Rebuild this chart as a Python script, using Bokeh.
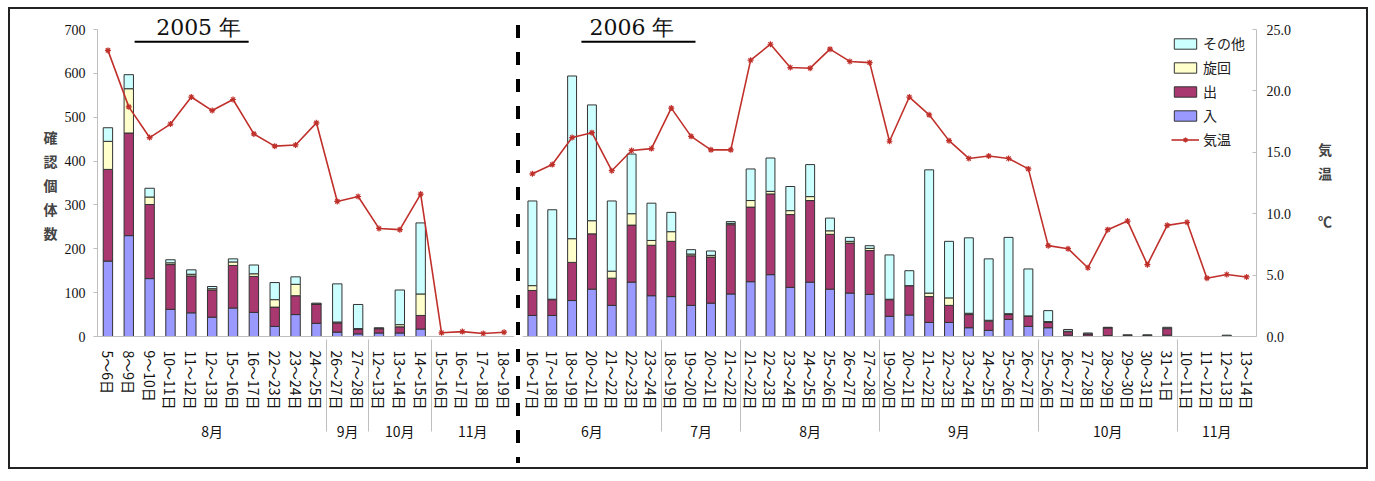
from bokeh.plotting import figure
from bokeh.models import (ColumnDataSource, FactorRange, Range1d, LinearAxis, Legend, LegendItem,
                          Label, Div, NumeralTickFormatter, SingleIntervalTicker)
from bokeh.layouts import row
from bokeh.embed import file_html
from bokeh.resources import INLINE

# ---------------- data ----------------
months_2005 = ["8月"] * 11 + ["9月"] * 2 + ["10月"] * 3 + ["11月"] * 4
dates_2005 = ["5～6日", "8～9日", "9～10日", "10～11日", "11～12日", "12～13日", "15～16日", "16～17日",
              "22～23日", "23～24日", "24～25日", "26～27日", "27～28日", "12～13日", "13～14日", "14～15日",
              "15～16日", "16～17日", "17～18日", "18～19日"]
in_2005 = [172, 230, 132, 62, 54, 44, 65, 55, 23, 50, 30, 10, 6, 8, 8, 17, 0, 0, 0, 0]
out_2005 = [209, 234, 169, 102, 84, 62, 97, 82, 44, 43, 44, 21, 11, 10, 14, 31, 0, 0, 0, 0]
turn_2005 = [64, 101, 17, 4, 4, 3, 8, 6, 17, 26, 0, 2, 1, 0, 5, 49, 0, 0, 0, 0]
other_2005 = [31, 32, 20, 7, 10, 5, 7, 20, 39, 17, 2, 87, 55, 2, 79, 162, 0, 0, 0, 0]
temp_2005 = [23.3, 18.7, 16.2, 17.3, 19.5, 18.4, 19.3, 16.5, 15.5, 15.6, 17.4, 11.0, 11.4, 8.8, 8.7,
             11.6, 0.3, 0.4, 0.25, 0.35]

months_2006 = ["6月"] * 7 + ["7月"] * 4 + ["8月"] * 7 + ["9月"] * 8 + ["10月"] * 7 + ["11月"] * 4
dates_2006 = ["16～17日", "17～18日", "18～19日", "20～21日", "21～22日", "22～23日", "23～24日",
              "18～19日", "19～20日", "20～21日", "21～22日",
              "21～22日", "22～23日", "23～24日", "24～25日", "25～26日", "26～27日", "27～28日",
              "19～20日", "20～21日", "21～22日", "22～23日", "23～24日", "24～25日", "25～26日", "26～27日",
              "25～26日", "26～27日", "27～28日", "28～29日", "29～30日", "30～31日", "31～1日",
              "10～11日", "11～12日", "12～13日", "13～14日"]
in_2006 = [48, 48, 82, 108, 71, 124, 93, 91, 71, 76, 97, 125, 141, 112, 124, 108, 99, 96,
           46, 49, 32, 32, 20, 14, 39, 23, 20, 3, 1, 2, 1, 1, 3, 0, 0, 0, 0]
out_2006 = [57, 36, 87, 126, 62, 130, 115, 126, 113, 105, 158, 170, 184, 166, 186, 125, 114, 100,
            38, 67, 59, 39, 30, 21, 11, 23, 12, 8, 5, 18, 1, 1, 15, 0, 0, 1, 0]
turn_2006 = [11, 1, 54, 30, 16, 26, 11, 22, 4, 4, 3, 15, 6, 9, 9, 8, 4, 5,
             1, 0, 8, 17, 3, 2, 2, 1, 2, 1, 0, 0, 0, 0, 1, 0, 0, 0, 0]
other_2006 = [193, 204, 371, 264, 160, 136, 85, 44, 10, 10, 4, 72, 76, 55, 73, 29, 9, 6,
              101, 34, 281, 129, 172, 140, 174, 107, 25, 4, 2, 1, 2, 2, 2, 0, 0, 2, 0]
temp_2006 = [13.25, 14.0, 16.2, 16.6, 13.5, 15.15, 15.3, 18.6, 16.3, 15.2, 15.2,
             22.5, 23.8, 21.9, 21.85, 23.4, 22.4, 22.3,
             15.9, 19.5, 18.05, 15.95, 14.5, 14.7, 14.5, 13.65,
             7.4, 7.15, 5.6, 8.7, 9.4, 5.85, 9.05, 9.3, 4.75, 5.05, 4.85]

series = ["入", "出", "旋回", "その他"]
colors = ["#9999FF", "#A8386F", "#FFFFCC", "#CCFFFF"]
TEMP_COLOR = "#C0302B"
TICK_FONT = "Liberation Sans Narrow"
JP_FONT = "Noto Sans CJK JP"

H = 458
TOP, BOTTOM = 0, 131
# frame is extended above the 700 tick so the year titles fit inside it
Y_END = 700 * (H - TOP - BOTTOM) / 307.0
T_END = 25 * Y_END / 700.0


def make_fig(months, dates, ins, outs, turns, others, temps, width, mb_left, mb_right):
    factors = list(zip(months, dates))
    src = ColumnDataSource(data={"x": factors, "入": ins, "出": outs, "旋回": turns,
                                 "その他": others, "t": temps})
    p = figure(width=width, height=H,
               x_range=FactorRange(factors=factors, factor_padding=0, group_padding=0,
                                   subgroup_padding=0, range_padding=0),
               y_range=Range1d(0, Y_END), y_axis_location=None,
               output_backend="svg", toolbar_location=None,
               min_border_left=mb_left, min_border_right=mb_right,
               min_border_top=TOP, min_border_bottom=BOTTOM)
    p.extra_y_ranges = {"temp": Range1d(0, T_END)}
    p.outline_line_color = None
    p.grid.visible = False
    p.background_fill_color = "white"
    bars = p.vbar_stack(series, x="x", width=0.45, color=colors, line_color="#333333",
                        line_width=1, source=src)
    ln = p.line(x="x", y="t", source=src, y_range_name="temp", line_color=TEMP_COLOR, line_width=1.6)
    sc = p.scatter(x="x", y="t", source=src, y_range_name="temp", marker="asterisk", size=6,
                   line_color=TEMP_COLOR, line_width=1.2)

    ax = p.xaxis[0]
    ax.major_label_orientation = "vertical"
    ax.major_label_text_font = JP_FONT
    ax.major_label_text_font_size = "14px"
    ax.major_label_text_color = "#111111"
    ax.major_label_standoff = 8
    ax.group_text_font = JP_FONT
    ax.group_text_font_size = "14px"
    ax.group_text_color = "#111111"
    ax.group_text_font_style = "normal"
    ax.major_tick_line_color = None
    ax.axis_line_color = "#BFBFBF"
    ax.separator_line_color = "#BFBFBF"
    ax.separator_line_width = 1
    return p, bars, ln, sc


# ---------------- 2005 ----------------
p1, bars1, ln1, sc1 = make_fig(months_2005, dates_2005, in_2005, out_2005, turn_2005, other_2005,
                               temp_2005, 504, 87, 0)
yax = LinearAxis(ticker=SingleIntervalTicker(interval=100), axis_label="\n確\n認\n個\n体\n数",
                 bounds=(0, 700))
yax.axis_label_orientation = "horizontal"
yax.axis_label_text_font = JP_FONT
yax.axis_label_text_font_size = "14px"
yax.axis_label_text_font_style = "bold"
yax.axis_label_standoff = 4
yax.major_label_text_font = TICK_FONT
yax.major_label_text_font_size = "14px"
yax.major_label_text_color = "#111111"
yax.axis_line_color = "#BFBFBF"
yax.major_tick_line_color = "#BFBFBF"
yax.major_tick_out = 4
yax.major_tick_in = 0
yax.minor_tick_line_color = None
yax.major_label_standoff = 8
p1.add_layout(yax, "left")

p1.add_layout(Label(x=4.85, y=704, text="2005 年", text_align="center", text_baseline="middle",
                    text_font="DejaVu Serif", text_font_size="22px", text_color="#111111"))
p1.segment(x0=[1.78], x1=[7.25], y0=[672], y1=[672], line_color="black", line_width=2)

# ---------------- divider (dashed separator between the two years) ----------------
divider = Div(text='<div style="width:4px;height:438px;margin:16px 0 0 2px;'
                   'background:repeating-linear-gradient(to bottom,#000 0px,#000 13px,'
                   'transparent 13px,transparent 27px);"></div>',
              width=8, height=H, margin=0)

# ---------------- 2006 ----------------
p2, bars2, ln2, sc2 = make_fig(months_2006, dates_2006, in_2006, out_2006, turn_2006, other_2006,
                               temp_2006, 844, 0, 110)
rax = LinearAxis(y_range_name="temp", ticker=SingleIntervalTicker(interval=5),
                 axis_label="\n気\n温\n\n℃", bounds=(0, 25))
rax.formatter = NumeralTickFormatter(format="0.0")
rax.axis_label_orientation = "horizontal"
rax.axis_label_text_font = JP_FONT
rax.axis_label_text_font_size = "14px"
rax.axis_label_text_font_style = "bold"
rax.axis_label_standoff = 24
rax.major_label_text_font = TICK_FONT
rax.major_label_text_font_size = "14px"
rax.major_label_text_color = "#111111"
rax.axis_line_color = "#BFBFBF"
rax.major_tick_line_color = "#BFBFBF"
rax.major_tick_in = 4
rax.major_tick_out = 0
rax.minor_tick_line_color = None
rax.major_label_standoff = 6
p2.add_layout(rax, "right")

p2.add_layout(Label(x=5.52, y=704, text="2006 年", text_align="center", text_baseline="middle",
                    text_font="DejaVu Serif", text_font_size="22px", text_color="#111111"))
p2.segment(x0=[2.97], x1=[8.72], y0=[672], y1=[672], line_color="black", line_width=2)

legend = Legend(items=[
    LegendItem(label="その他", renderers=[bars2[3]]),
    LegendItem(label="旋回", renderers=[bars2[2]]),
    LegendItem(label="出", renderers=[bars2[1]]),
    LegendItem(label="入", renderers=[bars2[0]]),
    LegendItem(label="気温", renderers=[ln2, sc2]),
], location=(649, 187))
legend.border_line_color = None
legend.background_fill_alpha = 0
legend.label_text_font = JP_FONT
legend.label_text_font_size = "14px"
legend.label_text_color = "#222222"
legend.glyph_width = 28
legend.glyph_height = 13
legend.label_height = 20
legend.spacing = 4
legend.label_standoff = 4
legend.padding = 4
legend.margin = 0
p2.add_layout(legend)

layout = row(p1, divider, p2)
layout.styles = {"border": "2px solid #222222", "margin": "7px 0px 0px 8px"}

open("out.html", "w").write(file_html(layout, INLINE))
